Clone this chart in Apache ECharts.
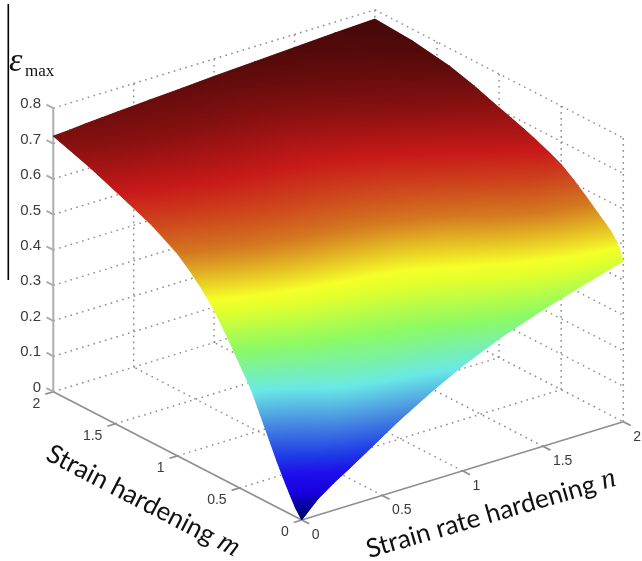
<!DOCTYPE html>
<html><head><meta charset="utf-8">
<style>html,body{margin:0;padding:0;background:#fff}#c{width:642px;height:561px}canvas{filter:blur(0.45px)}</style>
<script src="https://cdn.jsdelivr.net/npm/echarts@6/dist/echarts.min.js"></script>
</head><body><div id="c"></div>
<script>
// grid positions
const mValues = [0,.05,.1,.15,.2,.3,.4,.5,.6,.7,.8,.9,1,1.2,1.4,1.7,2];
const nValues = [0,.1,.2,.3,.4,.6,.8,1,1.25,1.5,1.75,2];
// epsilon_max, one row per m, columns per n
const epsAtM000 = [0,.045,.077,.105,.135,.195,.248,.296,.345,.385,.42,.453];
const epsAtM005 = [.025,.067,.109,.157,.188,.243,.282,.32,.374,.423,.465,.496];
const epsAtM010 = [.058,.101,.155,.205,.24,.285,.31,.342,.397,.448,.49,.519];
const epsAtM015 = [.093,.137,.195,.245,.28,.32,.342,.368,.419,.472,.512,.535];
const epsAtM020 = [.13,.176,.23,.28,.31,.34,.364,.39,.44,.492,.532,.55];
const epsAtM030 = [.21,.252,.292,.324,.345,.378,.402,.432,.48,.527,.567,.581];
const epsAtM040 = [.29,.32,.347,.375,.394,.423,.445,.47,.512,.557,.592,.61];
const epsAtM050 = [.35,.377,.401,.425,.441,.467,.484,.504,.54,.581,.614,.635];
const epsAtM060 = [.408,.433,.455,.475,.489,.509,.523,.538,.57,.602,.63,.652];
const epsAtM070 = [.462,.483,.50,.516,.527,.543,.555,.569,.592,.62,.644,.667];
const epsAtM080 = [.505,.521,.536,.549,.558,.572,.582,.592,.612,.635,.659,.681];
const epsAtM090 = [.54,.554,.566,.576,.583,.594,.602,.611,.628,.65,.673,.693];
const epsAtM100 = [.57,.58,.589,.598,.604,.614,.62,.627,.643,.664,.687,.705];
const epsAtM120 = [.612,.619,.626,.632,.637,.644,.65,.656,.671,.692,.712,.73];
const epsAtM140 = [.642,.65,.656,.661,.666,.672,.678,.684,.698,.716,.732,.75];
const epsAtM170 = [.685,.691,.696,.701,.705,.711,.716,.72,.731,.744,.756,.767];
const epsAtM200 = [.721,.724,.728,.731,.734,.74,.745,.751,.757,.763,.769,.774];
const epsRows = [epsAtM000,epsAtM005,epsAtM010,epsAtM015,epsAtM020,epsAtM030,epsAtM040,epsAtM050,epsAtM060,epsAtM070,epsAtM080,epsAtM090,epsAtM100,epsAtM120,epsAtM140,epsAtM170,epsAtM200];
// tick labels
const mTicks = [0,0.5,1,1.5,2];
const nTicks = [0,0.5,1,1.5,2];
const zTicks = [0,0.1,0.2,0.3,0.4,0.5,0.6,0.7,0.8];
// colour ramp by epsilon
const ramp = [[0,[0,0,100]],[0.025,[5,0,150]],[0.06,[25,0,225]],[0.10,[30,15,235]],[0.14,[30,60,230]],[0.21,[70,135,225]],[0.29,[105,232,230]],
  [0.38,[140,250,100]],[0.46,[225,255,45]],[0.485,[245,255,40]],[0.57,[212,120,32]],[0.655,[200,25,25]],[0.71,[135,16,16]],[0.774,[70,8,8]]];

const O=[301.7,520], DM=[-124.2,-64.15], DN=[160.8,-49.15], DZ=-354.5;
function project(m,n,z){return [O[0]+DM[0]*m+DN[0]*n, O[1]+DM[1]*m+DN[1]*n+DZ*z];}
function colorAt(z){
  if(z<=ramp[0][0]) return ramp[0][1];
  for(let i=1;i<ramp.length;i++){ if(z<=ramp[i][0]){const t=(z-ramp[i-1][0])/(ramp[i][0]-ramp[i-1][0]);
    return ramp[i-1][1].map((c,k)=>c+(ramp[i][1][k]-c)*t);} }
  return ramp[ramp.length-1][1];
}
const css=c=>'rgb('+c.map(v=>Math.round(v)).join(',')+')';

// triangles back to front
const triangles=[];
for(let i=mValues.length-2;i>=0;i--) for(let j=nValues.length-2;j>=0;j--){
  const a=[mValues[i],nValues[j],epsRows[i][j]], b=[mValues[i+1],nValues[j],epsRows[i+1][j]],
        c=[mValues[i+1],nValues[j+1],epsRows[i+1][j+1]], d=[mValues[i],nValues[j+1],epsRows[i][j+1]];
  triangles.push([...b,...c,...d],[...a,...b,...d]);
}
function triFill(p,z){
  const x1=p[1][0]-p[0][0],y1=p[1][1]-p[0][1],x2=p[2][0]-p[0][0],y2=p[2][1]-p[0][1];
  const dz1=z[1]-z[0],dz2=z[2]-z[0],det=x1*y2-x2*y1;
  const zmin=Math.min(...z),zmax=Math.max(...z);
  if(Math.abs(det)<1e-6||zmax-zmin<1e-6) return css(colorAt((zmin+zmax)/2));
  const gx=(dz1*y2-dz2*y1)/det, gy=(x1*dz2-x2*dz1)/det, g2=gx*gx+gy*gy;
  const k=z.indexOf(zmin), s=(zmax-zmin)/g2;
  const x0=p[k][0],y0=p[k][1];
  const stops=[];
  const zs=[zmin,...ramp.map(r=>r[0]).filter(v=>v>zmin&&v<zmax),zmax];
  zs.forEach(v=>stops.push({offset:(v-zmin)/(zmax-zmin),color:css(colorAt(v))}));
  return new echarts.graphic.LinearGradient(x0,y0,x0+gx*s,y0+gy*s,stops,true);
}
const gridColor='#8e8e8e';
const dotted=[];
[0.5,1,1.5].forEach(m=>dotted.push([m,0,0,m,2,0]));
[0.5,1,1.5].forEach(n=>dotted.push([0,n,0,2,n,0]));
zTicks.forEach(z=>{dotted.push([2,0,z,2,2,z],[2,2,z,0,2,z]);});
[0.5,1,1.5,2].forEach(n=>dotted.push([2,n,0,2,n,0.8]));
[0,0.5,1,1.5].forEach(m=>dotted.push([m,2,0,m,2,0.8]));
const solid=[[0,0,0,2,0,0],[0,0,0,0,2,0]];
mTicks.forEach(m=>solid.push([m,0,0,m,-0.05,0]));
nTicks.forEach(n=>solid.push([0,n,0,-0.06,n,0]));
const zAxisLine=[[2,0,0,2,0,0.8]];
zTicks.forEach(z=>zAxisLine.push([2,0,z,2.055,0,z]));

const segmentItem=(style)=>(params,api)=>{
  const a=project(api.value(0),api.value(1),api.value(2)), b=project(api.value(3),api.value(4),api.value(5));
  return {type:'line',silent:true,shape:{x1:a[0],y1:a[1],x2:b[0],y2:b[1]},style};
};
const surfaceItem=(lineWidth)=>(params,api)=>{
  const p=[],z=[];
  for(let k=0;k<3;k++){p.push(project(api.value(3*k),api.value(3*k+1),api.value(3*k+2)));z.push(api.value(3*k+2));}
  const fill=triFill(p,z);
  return {type:'polygon',silent:true,shape:{points:p},style:lineWidth?{fill,stroke:fill,lineWidth}:{fill}};
};
const labelData=[];
mTicks.forEach(v=>labelData.push(['m',v]));
nTicks.forEach(v=>labelData.push(['n',v]));
zTicks.forEach(v=>labelData.push(['z',v]));
const chart=echarts.init(document.getElementById('c'),null,{renderer:'canvas'});
chart.setOption({
  animation:false,
  backgroundColor:'#fff',
  series:[
   {type:'custom',coordinateSystem:'none',silent:true,z:1,data:dotted,
    renderItem:segmentItem({stroke:gridColor,lineWidth:1.5,lineDash:[1.6,4.4],fill:null})},
   {type:'custom',coordinateSystem:'none',silent:true,z:2,data:solid,
    renderItem:segmentItem({stroke:'#8f8f8f',lineWidth:1.7,fill:null})},
   {type:'custom',coordinateSystem:'none',silent:true,z:2,data:zAxisLine,
    renderItem:segmentItem({stroke:'#adadad',lineWidth:2,fill:null})},
   {type:'custom',coordinateSystem:'none',silent:true,z:3,data:triangles,renderItem:surfaceItem(0.8)},
   {type:'custom',coordinateSystem:'none',silent:true,z:3.5,data:triangles,renderItem:surfaceItem(0)},
   {type:'custom',coordinateSystem:'none',silent:true,z:4,data:labelData,
    renderItem:(params,api)=>{
      const kind=labelData[params.dataIndex][0], v=labelData[params.dataIndex][1];
      let x,y,align;
      if(kind==='m'){const p=project(v,0,0);x=p[0]-13;y=p[1]+12.5;align='right';}
      else if(kind==='n'){const p=project(0,v,0);x=p[0]+10;y=p[1]+15;align='left';}
      else {const p=project(2,0,v);x=41;y=p[1]-4;align='right';}
      return {type:'text',silent:true,x,y,style:{text:String(v),fill:'#3a3a3a',
        font:(kind==='z'?15:14)+'px "Liberation Sans"',align,verticalAlign:'middle'}};
    }}
  ],
  graphic:[
   {type:'line',silent:true,shape:{x1:8.3,y1:4,x2:8.3,y2:280},style:{stroke:'#000',lineWidth:1.6},z:10},
   {type:'text',silent:true,x:9,y:62,z:10,style:{text:'ε',fill:'#111',font:'italic 34px "Liberation Serif"',align:'left',verticalAlign:'middle'}},
   {type:'text',silent:true,x:25,y:72,z:10,style:{text:'max',fill:'#111',font:'17px "Liberation Serif"',align:'left',verticalAlign:'middle'}},
   {type:'text',silent:true,x:143,y:501,rotation:-27.4*Math.PI/180,z:10,
    style:{text:'Strain hardening {m|m}',fill:'#111',font:'26px Lato',align:'center',verticalAlign:'middle',
      rich:{m:{fontFamily:'Liberation Serif',fontStyle:'italic',fontSize:29,fill:'#111'}}}},
   {type:'text',silent:true,x:491,y:514,rotation:16.2*Math.PI/180,z:10,
    style:{text:'Strain rate hardening {n|n}',fill:'#111',font:'26px Lato',align:'center',verticalAlign:'middle',
      rich:{n:{fontFamily:'Liberation Serif',fontStyle:'italic',fontSize:29,fill:'#111'}}}}
  ]
});
</script></body></html>
